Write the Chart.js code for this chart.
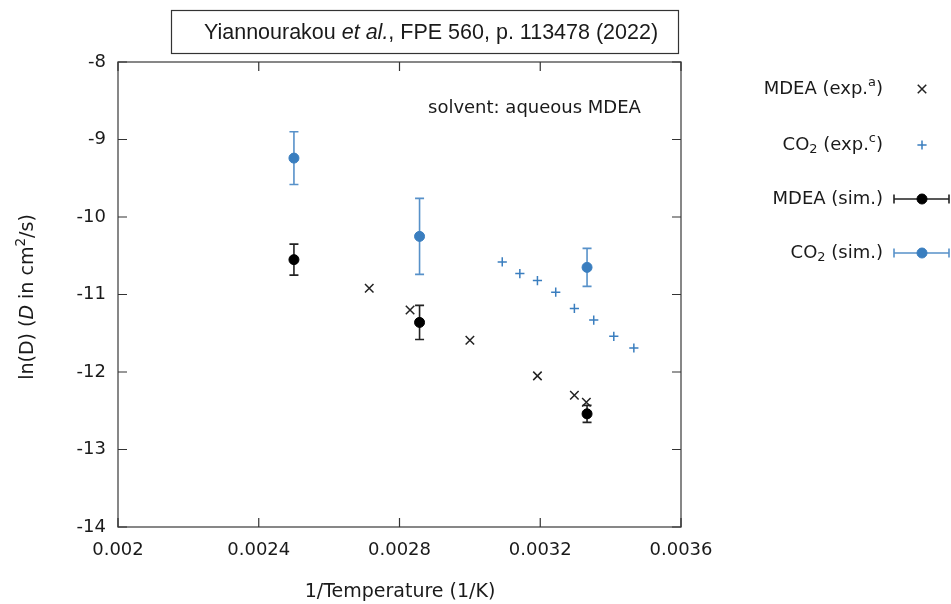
<!DOCTYPE html>
<html>
<head>
<meta charset="utf-8">
<script src="https://cdn.jsdelivr.net/npm/chart.js@4.4.0/dist/chart.umd.min.js"></script>
<style>
  html, body { margin: 0; padding: 0; background: #fff; }
  #wrap { width: 951px; height: 604px; }
</style>
</head>
<body>
<div id="wrap"><canvas id="diffChart" width="951" height="604"></canvas></div>
<script>
// tick values on the two axes
const xTicks = [0.002, 0.0024, 0.0028, 0.0032, 0.0036];
const yTicks = [-14, -13, -12, -11, -10, -9, -8];

// MDEA experimental (x marks)
const mdeaExpX = [0.002714, 0.00283, 0.003, 0.003192, 0.003297, 0.003331];
const mdeaExpY = [-10.92, -11.20, -11.59, -12.05, -12.30, -12.39];

// CO2 experimental (+ marks)
const co2ExpX = [0.003092, 0.003142, 0.003192, 0.003244, 0.003297, 0.003352, 0.003409, 0.003466];
const co2ExpY = [-10.58, -10.73, -10.82, -10.97, -11.18, -11.33, -11.54, -11.69];

// simulations (400 K, 350 K, 300 K) with error bars
const simX = [0.0025, 0.002857, 0.003333];
const mdeaSimY = [-10.55, -11.36, -12.54];
const mdeaSimErr = [0.20, 0.22, 0.11];
const co2SimY = [-9.24, -10.25, -10.65];
const co2SimErr = [0.34, 0.49, 0.245];

const BLUE = '#3a7ebf';
const FONT = "'DejaVu Sans', Verdana, sans-serif";
const TEXT = '#1a1a1a';
const FS = 18;

function toPoints(xs, ys) {
  return xs.map((x, i) => ({ x: x, y: ys[i] }));
}

// draws a run of text pieces (normal / italic / sub / sup), aligned at x
function drawRich(ctx, parts, x, y, size, family, align) {
  const fontOf = p => {
    const s = (p.sub || p.sup) ? size * 0.72 : size;
    return (p.it ? 'italic ' : '') + s + 'px ' + family;
  };
  let total = 0;
  parts.forEach(p => { ctx.font = fontOf(p); total += ctx.measureText(p.t).width; });
  let cx = align === 'right' ? x - total : align === 'center' ? x - total / 2 : x;
  ctx.textAlign = 'left';
  ctx.textBaseline = 'middle';
  parts.forEach(p => {
    ctx.font = fontOf(p);
    let dy = 0;
    if (p.sub) dy = size * 0.28;
    if (p.sup) dy = -size * 0.36;
    ctx.fillText(p.t, cx, y + dy);
    cx += ctx.measureText(p.t).width;
  });
}

function drawErrorBar(ctx, x, yTop, yBot, cap) {
  ctx.beginPath();
  ctx.moveTo(x, yTop); ctx.lineTo(x, yBot);
  ctx.moveTo(x - cap, yTop); ctx.lineTo(x + cap, yTop);
  ctx.moveTo(x - cap, yBot); ctx.lineTo(x + cap, yBot);
  ctx.stroke();
}

const errorBars = {
  id: 'errorBars',
  beforeDatasetsDraw(chart) {
    const ctx = chart.ctx;
    const xs = chart.scales.x, ys = chart.scales.y;
    chart.data.datasets.forEach(ds => {
      if (!ds.errors) return;
      ctx.save();
      ctx.strokeStyle = ds.errColor;
      ctx.lineWidth = 1.6;
      ds.data.forEach((p, i) => {
        const px = xs.getPixelForValue(p.x);
        drawErrorBar(ctx, px, ys.getPixelForValue(p.y + ds.errors[i]), ys.getPixelForValue(p.y - ds.errors[i]), 4.5);
      });
      ctx.restore();
    });
  }
};

const frame = {
  id: 'frame',
  afterDraw(chart) {
    const ctx = chart.ctx;
    const a = chart.chartArea;
    const xs = chart.scales.x, ys = chart.scales.y;
    ctx.save();
    ctx.strokeStyle = '#555';
    ctx.lineWidth = 1.4;
    ctx.strokeRect(a.left, a.top, a.right - a.left, a.bottom - a.top);
    // inward ticks on all four sides
    ctx.strokeStyle = '#333';
    ctx.lineWidth = 1.2;
    ctx.beginPath();
    xTicks.forEach(v => {
      const px = xs.getPixelForValue(v);
      ctx.moveTo(px, a.bottom); ctx.lineTo(px, a.bottom - 9);
      ctx.moveTo(px, a.top); ctx.lineTo(px, a.top + 9);
    });
    yTicks.forEach(v => {
      const py = ys.getPixelForValue(v);
      ctx.moveTo(a.left, py); ctx.lineTo(a.left + 9, py);
      ctx.moveTo(a.right, py); ctx.lineTo(a.right - 9, py);
    });
    ctx.stroke();

    // title box
    ctx.strokeStyle = '#333';
    ctx.lineWidth = 1.2;
    ctx.strokeRect(171.5, 10.5, 507, 43);
    ctx.fillStyle = TEXT;
    drawRich(ctx, [
      { t: 'Yiannourakou ' }, { t: 'et al.', it: true }, { t: ', FPE 560, p. 113478 (2022)' }
    ], 431, 33, 21.5, "'Liberation Sans', Arial, sans-serif", 'center');

    // annotation
    drawRich(ctx, [{ t: 'solvent: aqueous MDEA' }], 428, 108, FS, FONT, 'left');

    // axis titles
    drawRich(ctx, [{ t: '1/Temperature (1/K)' }], 400, 592, 19, FONT, 'center');
    ctx.save();
    ctx.translate(28, 297);
    ctx.rotate(-Math.PI / 2);
    drawRich(ctx, [
      { t: 'ln(D) (' }, { t: 'D', it: true }, { t: ' in cm' }, { t: '2', sup: true }, { t: '/s)' }
    ], 0, 0, 19, FONT, 'center');
    ctx.restore();

    // legend
    const textX = 883, symX = 922;
    const rows = [89, 145, 199, 253];
    const labels = [
      [{ t: 'MDEA (exp.' }, { t: 'a', sup: true }, { t: ')' }],
      [{ t: 'CO' }, { t: '2', sub: true }, { t: ' (exp.' }, { t: 'c', sup: true }, { t: ')' }],
      [{ t: 'MDEA (sim.)' }],
      [{ t: 'CO' }, { t: '2', sub: true }, { t: ' (sim.)' }]
    ];
    chart.data.datasets.forEach((ds, i) => {
      const y = rows[i];
      ctx.fillStyle = TEXT;
      drawRich(ctx, labels[i], textX, y, FS, FONT, 'right');
      if (ds.errors) {
        ctx.strokeStyle = ds.errColor;
        ctx.lineWidth = 1.6;
        ctx.beginPath();
        ctx.moveTo(894, y); ctx.lineTo(949, y);
        ctx.moveTo(894, y - 4.5); ctx.lineTo(894, y + 4.5);
        ctx.moveTo(949, y - 4.5); ctx.lineTo(949, y + 4.5);
        ctx.stroke();
      }
      ctx.fillStyle = ds.pointBackgroundColor || ds.pointBorderColor;
      ctx.strokeStyle = ds.pointBorderColor;
      ctx.lineWidth = ds.pointBorderWidth;
      ctx.beginPath();
      Chart.helpers.drawPoint(ctx, {
        pointStyle: ds.pointStyle, radius: ds.pointRadius, borderWidth: ds.pointBorderWidth, rotation: 0
      }, symX, y);
    });
    ctx.restore();
  }
};

const ctx = document.getElementById('diffChart').getContext('2d');

new Chart(ctx, {
  type: 'scatter',
  data: {
    datasets: [{
      label: 'MDEA (exp.)',
      data: toPoints(mdeaExpX, mdeaExpY),
      pointStyle: 'crossRot',
      pointRadius: 6,
      pointBorderColor: '#222',
      pointBorderWidth: 1.5
    }, {
      label: 'CO2 (exp.)',
      data: toPoints(co2ExpX, co2ExpY),
      pointStyle: 'cross',
      pointRadius: 4.6,
      pointBorderColor: BLUE,
      pointBorderWidth: 1.5
    }, {
      label: 'MDEA (sim.)',
      data: toPoints(simX, mdeaSimY),
      errors: mdeaSimErr,
      errColor: '#222',
      pointStyle: 'circle',
      pointRadius: 5,
      pointBackgroundColor: '#000',
      pointBorderColor: '#000',
      pointBorderWidth: 1
    }, {
      label: 'CO2 (sim.)',
      data: toPoints(simX, co2SimY),
      errors: co2SimErr,
      errColor: 'rgba(58,126,191,0.85)',
      pointStyle: 'circle',
      pointRadius: 5,
      pointBackgroundColor: BLUE,
      pointBorderColor: BLUE,
      pointBorderWidth: 1
    }]
  },
  options: {
    responsive: false,
    animation: false,
    layout: { padding: { left: 0, top: 62, right: 270, bottom: 0 } },
    plugins: {
      legend: { display: false },
      tooltip: { enabled: false }
    },
    scales: {
      x: {
        type: 'linear',
        min: 0.002,
        max: 0.0036,
        afterBuildTicks: s => { s.ticks = xTicks.map(v => ({ value: v })); },
        afterFit: s => { s.height = 77; },
        grid: { display: false, drawTicks: false },
        border: { display: false },
        ticks: {
          padding: 13,
          color: TEXT,
          font: { family: FONT, size: FS },
          maxRotation: 0,
          callback: v => String(+v.toFixed(4))
        }
      },
      y: {
        type: 'linear',
        min: -14,
        max: -8,
        afterBuildTicks: s => { s.ticks = yTicks.map(v => ({ value: v })); },
        afterFit: s => { s.width = 118; },
        grid: { display: false, drawTicks: false },
        border: { display: false },
        ticks: {
          padding: 12,
          color: TEXT,
          font: { family: FONT, size: FS },
          callback: v => String(v)
        }
      }
    }
  },
  plugins: [errorBars, frame]
});
</script>
</body>
</html>
